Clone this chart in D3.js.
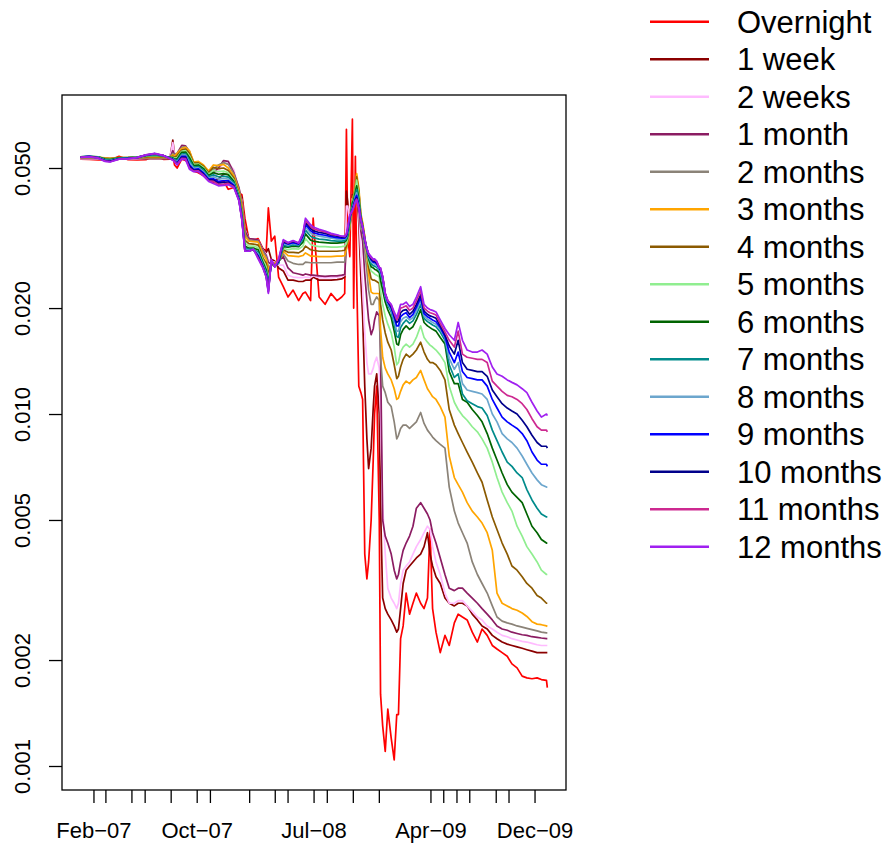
<!DOCTYPE html>
<html>
<head>
<meta charset="utf-8">
<script src="https://cdn.jsdelivr.net/npm/d3@7"></script>
<style>
  html, body { margin: 0; padding: 0; background: #ffffff; }
  svg { display: block; font-family: "Liberation Sans", Arial, Helvetica, sans-serif; }
</style>
</head>
<body>
<svg id="chart" width="890" height="846"></svg>
<script>
// Observation dates shared by every maturity
const dates = [
  "2007-01-02","2007-01-22","2007-02-12","2007-02-28","2007-03-12","2007-04-02","2007-04-23","2007-05-14","2007-06-04","2007-06-25","2007-07-16","2007-07-30",
  "2007-08-06","2007-08-10","2007-08-16","2007-08-27","2007-09-05","2007-09-14","2007-09-24","2007-10-05","2007-10-17","2007-10-29","2007-11-09","2007-11-21","2007-12-03","2007-12-14","2007-12-27",
  "2008-01-08","2008-01-15","2008-01-22","2008-01-31","2008-02-11","2008-02-22","2008-03-04","2008-03-12","2008-03-17","2008-03-24","2008-04-01","2008-04-10","2008-04-21","2008-05-02","2008-05-14","2008-05-27","2008-06-06","2008-06-12","2008-06-24","2008-06-30","2008-07-14","2008-07-28","2008-08-11","2008-08-25","2008-09-05",
  "2008-09-12","2008-09-16","2008-09-19","2008-09-24","2008-09-30","2008-10-03","2008-10-07","2008-10-10","2008-10-15","2008-10-20","2008-10-24","2008-10-29","2008-11-03","2008-11-07","2008-11-13","2008-11-18","2008-11-21","2008-11-26","2008-12-02","2008-12-05","2008-12-10","2008-12-16","2008-12-22","2008-12-30","2009-01-06","2009-01-12","2009-01-16","2009-01-21","2009-01-27",
  "2009-02-03","2009-02-11","2009-02-19","2009-02-27","2009-03-09","2009-03-17","2009-03-25","2009-03-31","2009-04-06","2009-04-14","2009-04-24","2009-05-05","2009-05-15","2009-05-27","2009-06-05","2009-06-15","2009-06-26","2009-07-08","2009-07-20","2009-07-31","2009-08-12","2009-08-24","2009-09-04","2009-09-16","2009-09-28","2009-10-09","2009-10-21","2009-11-02","2009-11-13","2009-11-25","2009-12-07","2009-12-17","2009-12-29","2009-12-31"
];

// Rates by maturity
const overnight = [
  .053,.0529,.0527,.0528,.0527,.054,.0528,.0527,.0528,.0545,.0529,.053,
  .0545,.051,.05,.053,.0525,.051,.049,.0485,.0475,.0465,.0455,.0455,.046,.0435,.044,
  .0425,.042,.036,.0315,.0312,.0315,.0295,.029,.0385,.031,.032,.0245,.023,.0215,.0225,.021,.022,.0222,.021,.036,.0215,.0205,.022,.021,.0215,
  .022,.0644,.032,.028,.0688,.02,.054,.025,.012,.0115,.011,.004,.0034,.0038,.005,.0075,.01,.012,.005,.0016,.0013,.0011,.00145,.0012,.00104,.0014,.0014,.0023,.0025,
  .0031,.0027,.0029,.0031,.0029,.0028,.003,.0047,.0028,.0024,.0021,.00235,.0022,.00255,.0027,.00265,.0026,.0024,.00225,.00245,.00235,.0022,.00215,.0021,.00205,.00195,.0019,.0018,.00178,.00177,.00178,.00176,.00175,.00167
];
const week1 = [
  .0531,.0531,.053,.053,.053,.0531,.0531,.0531,.0531,.0532,.0531,.0531,
  .06,.0545,.0525,.0545,.054,.052,.0495,.0495,.0485,.047,.046,.0465,.048,.048,.046,
  .0428,.0412,.034,.0315,.0314,.0312,.0295,.0288,.0295,.0275,.0272,.026,.0255,.024,.024,.0238,.0238,.024,.024,.0245,.024,.024,.024,.0241,.0242,
  .0245,.043,.04,.034,.042,.039,.042,.044,.035,.024,.019,.012,.0085,.007,.008,.0105,.012,.013,.01,.0055,.003,.0028,.0027,.0026,.0025,.0024,.00245,.0028,.0033,
  .0036,.0037,.0038,.0039,.004,.0042,.0046,.004,.0037,.00345,.0033,.003,.0029,.00285,.0029,.0029,.00285,.0027,.0026,.0025,.00245,.00235,.0023,.00225,.00222,.0022,.00218,.00216,.00214,.00212,.0021,.0021,.0021,.0021
];
const week2 = [
  .0531,.0531,.0531,.0531,.0531,.0531,.0531,.0531,.0532,.0532,.0532,.0532,
  .059,.0545,.0535,.057,.0565,.0535,.05,.05,.0492,.0475,.047,.049,.052,.0515,.0495,
  .043,.0405,.0335,.0315,.0314,.0312,.0293,.0285,.0275,.027,.027,.0265,.0265,.0248,.0245,.0244,.0244,.0245,.0244,.0247,.0244,.0244,.0244,.0245,.0246,
  .0248,.039,.039,.035,.041,.04,.0425,.045,.038,.028,.023,.017,.014,.013,.013,.0135,.014,.0145,.0135,.01,.0055,.004,.0032,.003,.0029,.0028,.0029,.0033,.0036,
  .0037,.0038,.004,.0042,.0044,.0046,.0048,.0047,.0042,.0038,.0035,.0031,.0029,.0029,.00295,.00295,.00285,.00275,.00265,.0026,.0025,.00245,.0024,.00235,.00233,.0023,.00228,.00226,.00225,.00223,.00221,.0022,.0022,.0022
];
const month1 = [
  .0532,.0532,.0532,.0532,.0532,.0532,.0532,.0532,.0532,.0532,.0532,.0532,
  .056,.0545,.055,.058,.0578,.0555,.0512,.0512,.05,.0485,.0485,.05,.0525,.0522,.0485,
  .044,.04,.0332,.0315,.0314,.0312,.0292,.0282,.027,.0266,.0268,.0272,.028,.026,.0252,.025,.0248,.025,.0248,.0248,.0247,.0246,.0247,.0247,.0248,
  .0249,.03,.032,.034,.0393,.041,.043,.0459,.039,.033,.031,.025,.021,.0185,.0168,.0175,.0185,.0195,.019,.015,.005,.0045,.0043,.004,.0036,.0034,.0035,.0038,.0041,
  .0043,.0045,.0048,.0054,.0056,.0054,.0052,.005,.0046,.0043,.0039,.0035,.0032,.00315,.0032,.0032,.0031,.003,.0029,.0028,.0027,.0026,.0025,.00245,.00243,.0024,.00238,.00236,.00235,.00233,.00232,.00231,.0023,.0023
];
const month2 = [
  .0534,.0534,.0534,.0533,.0533,.0534,.0534,.0534,.0534,.0534,.0534,.0534,
  .055,.0545,.055,.0572,.0575,.0558,.0518,.0515,.0505,.0488,.0495,.051,.0518,.0512,.0482,
  .0435,.0395,.0325,.0312,.0311,.031,.029,.028,.0262,.0264,.0266,.0273,.0285,.0272,.0268,.0266,.0266,.027,.0269,.0269,.0269,.0269,.0269,.027,.027,
  .027,.0295,.0315,.034,.04,.0415,.044,.0475,.042,.0335,.033,.029,.0255,.0225,.0205,.0205,.021,.0215,.021,.0145,.012,.0115,.0108,.0105,.0095,.0085,.0087,.0091,.0093,
  .0093,.0091,.0093,.0095,.0101,.0094,.009,.0088,.0086,.0084,.0082,.008,.0062,.0053,.0049,.0046,.0043,.0038,.0035,.0033,.0031,.00285,.00265,.00258,.00255,.00253,.0025,.00248,.00246,.00244,.00242,.0024,.00239,.00239
];
const month3 = [
  .0536,.0536,.0536,.0534,.0533,.0535,.0535,.0536,.0536,.0536,.0536,.0536,
  .0545,.054,.055,.0568,.0572,.056,.052,.0522,.051,.049,.051,.0508,.0512,.05,.0475,
  .043,.039,.032,.031,.0309,.0308,.0285,.0275,.0258,.0265,.0268,.0272,.029,.0282,.0281,.028,.0282,.0287,.0281,.0281,.028,.028,.028,.0281,.0281,
  .0282,.0295,.0306,.034,.0405,.042,.045,.0482,.044,.037,.035,.032,.0282,.025,.0222,.022,.022,.022,.022,.0175,.0145,.0135,.013,.0125,.0118,.011,.0111,.0116,.0121,
  .0124,.0122,.0125,.0127,.0133,.0125,.0118,.0115,.0112,.011,.0105,.0098,.0076,.0066,.0063,.006,.0056,.0053,.0051,.0049,.0046,.0041,.0031,.0029,.00285,.0028,.00277,.00272,.00266,.00257,.00253,.00252,.0025,.00249
];
const month4 = [
  .0537,.0538,.0537,.0533,.0531,.0535,.0535,.0536,.0538,.0539,.0538,.0536,
  .054,.0536,.0542,.0562,.0566,.055,.0516,.0517,.0506,.0485,.0502,.0498,.05,.0492,.0468,
  .0425,.0382,.0312,.0305,.0304,.0302,.0278,.0268,.025,.0266,.0266,.027,.0293,.0288,.0288,.0287,.0292,.03,.0293,.0292,.029,.029,.029,.029,.0291,
  .0292,.03,.031,.0345,.0402,.0415,.0442,.0472,.043,.0365,.0346,.0318,.0288,.0262,.0242,.024,.024,.0238,.0235,.0205,.0185,.017,.016,.0152,.0138,.0126,.0128,.0136,.0143,
  .0148,.0145,.0148,.0152,.016,.015,.0143,.014,.014,.0138,.0133,.0125,.0103,.0093,.0088,.0083,.0078,.0073,.0068,.0064,.0057,.0051,.0047,.0043,.004,.0037,.0036,.00345,.0033,.0032,.00305,.003,.0029,.0029
];
const month5 = [
  .0538,.0539,.0538,.0531,.0529,.0534,.0535,.0536,.054,.0542,.0539,.0536,
  .0536,.0533,.0535,.0558,.056,.0542,.0512,.0513,.0502,.048,.0492,.0488,.049,.0485,.0462,
  .042,.0375,.0306,.03,.03,.0297,.0274,.0262,.0242,.0267,.0265,.0269,.0296,.0293,.0295,.0294,.03,.0315,.0303,.0301,.0299,.0299,.0298,.0298,.0299,
  .03,.0305,.0315,.035,.04,.041,.0435,.0462,.042,.0362,.0343,.0315,.029,.027,.0255,.0252,.025,.0248,.0245,.0225,.0205,.019,.018,.017,.0155,.0138,.014,.015,.0155,
  .0158,.0155,.0158,.0165,.0178,.0165,.016,.0157,.0155,.0152,.0147,.014,.012,.0108,.0103,.0099,.0096,.0092,.0089,.0085,.008,.0073,.0066,.006,.0056,.0053,.0048,.0045,.0042,.004,.0038,.0036,.0035,.0035
];
const month6 = [
  .0538,.054,.0538,.053,.0528,.0534,.0535,.0537,.0542,.0544,.054,.0536,
  .0534,.053,.053,.0554,.0555,.0535,.0508,.051,.0498,.0476,.0485,.048,.0482,.0478,.0458,
  .0415,.037,.03,.0296,.0296,.0293,.027,.0257,.0236,.0268,.0264,.0268,.0299,.0298,.03,.0299,.0308,.0325,.0312,.031,.0308,.0307,.0306,.0306,.0307,
  .0308,.0312,.032,.0355,.0398,.0405,.0428,.0445,.041,.036,.0341,.0313,.0292,.0276,.0262,.026,.0258,.0256,.0252,.024,.0225,.0208,.0198,.0188,.0172,.0158,.0157,.0168,.0174,
  .0178,.0174,.0177,.0185,.0198,.0182,.0178,.0176,.0174,.0172,.0165,.0158,.0132,.0122,.0122,.011,.0108,.0103,.0099,.0095,.0088,.008,.0074,.0068,.0063,.006,.0058,.0056,.0052,.0048,.0046,.0044,.0043,.0043
];
const month7 = [
  .0538,.054,.0537,.0528,.0526,.0533,.0534,.0536,.0543,.0546,.0541,.0535,
  .0532,.0528,.0525,.0548,.0549,.0526,.0503,.0505,.0493,.0472,.0478,.0472,.0474,.0471,.0454,
  .0412,.0366,.0296,.0294,.0294,.0288,.0267,.0253,.0232,.0269,.0263,.0269,.0302,.03,.0303,.0301,.0313,.0333,.032,.0317,.0314,.0313,.0311,.031,.031,
  .0311,.0315,.0324,.0358,.039,.04,.042,.0435,.0402,.0358,.034,.0312,.0293,.0279,.0267,.0264,.0263,.0261,.0256,.025,.0238,.0214,.0204,.0195,.018,.0166,.0165,.0176,.0181,
  .0185,.0181,.0184,.0192,.0205,.0187,.0183,.0181,.0179,.0177,.0171,.0162,.0138,.0127,.013,.0114,.0109,.0107,.0105,.0104,.0099,.009,.0084,.0078,.0073,.0071,.0068,.0066,.0061,.0057,.0054,.0052,.0051,.0051
];
const month8 = [
  .0538,.054,.0536,.0526,.0525,.0532,.0533,.0536,.0543,.0547,.0541,.0534,
  .053,.0526,.052,.0544,.0544,.0518,.0499,.05,.0488,.0468,.0472,.0465,.0467,.0465,.045,
  .041,.0363,.0294,.0292,.0293,.0285,.0265,.025,.0228,.027,.0263,.027,.0305,.0302,.0305,.0303,.0317,.034,.0327,.0323,.032,.0318,.0316,.0314,.0314,
  .0314,.0318,.0328,.036,.0385,.0396,.0415,.0425,.0396,.0357,.0339,.0312,.0294,.0281,.0271,.0268,.0267,.0264,.0258,.0253,.0242,.0217,.0206,.0198,.0184,.0172,.0172,.0183,.0187,
  .0189,.0185,.0188,.0196,.021,.019,.0186,.0184,.0182,.018,.0174,.0165,.0144,.0134,.014,.0122,.0117,.0116,.0115,.0114,.011,.01,.0095,.0088,.0085,.0083,.008,.0076,.0072,.0068,.0065,.0063,.0062,.0062
];
const month9 = [
  .0537,.054,.0535,.0525,.0523,.0531,.0533,.0535,.0544,.0548,.0542,.0533,
  .0529,.0524,.0517,.054,.054,.051,.0495,.0497,.0484,.0465,.0466,.0458,.046,.046,.0447,
  .0408,.036,.0292,.0291,.0293,.0282,.0263,.0248,.0225,.0272,.0262,.0271,.0307,.0304,.0307,.0304,.032,.0346,.0332,.0328,.0324,.0322,.0319,.0317,.0316,
  .0316,.032,.0331,.0362,.0382,.0393,.041,.0418,.0392,.0356,.0339,.0312,.0295,.0283,.0274,.027,.027,.0267,.026,.0256,.0244,.0219,.0208,.02,.0188,.0178,.0178,.0189,.0192,
  .0194,.0188,.0192,.0201,.0214,.0193,.0189,.0187,.0185,.0183,.0176,.0166,.015,.014,.015,.0132,.0127,.0126,.0125,.0125,.012,.011,.0104,.0098,.0095,.0093,.0091,.0088,.0084,.0078,.0074,.0072,.0072,.0071
];
const month10 = [
  .0537,.0539,.0534,.0524,.0522,.0531,.0532,.0535,.0544,.0549,.0542,.0533,
  .0528,.0523,.0514,.0536,.0536,.0505,.0492,.0494,.048,.0462,.0462,.0453,.0455,.0456,.0444,
  .0406,.0358,.0291,.029,.0293,.028,.0262,.0246,.0223,.0273,.0262,.0272,.0309,.0305,.0309,.0305,.0323,.0351,.0337,.0332,.0328,.0326,.0322,.032,.0318,
  .0318,.0322,.0334,.0364,.038,.039,.0406,.0412,.0389,.0356,.0339,.0313,.0295,.0284,.0276,.0272,.0272,.0269,.0261,.0258,.0245,.022,.0209,.0202,.0191,.0182,.0184,.0194,.0197,
  .0198,.0192,.0196,.0205,.0218,.0196,.0192,.019,.0189,.0187,.0178,.0168,.0156,.0148,.0162,.014,.0134,.0133,.0132,.0132,.0128,.0117,.0112,.0107,.0104,.0102,.01,.0096,.0092,.0087,.0083,.0081,.0081,.008
];
const month11 = [
  .0537,.0539,.0534,.0523,.0521,.053,.0532,.0535,.0545,.0549,.0542,.0532,
  .0527,.0522,.0512,.0533,.0532,.05,.049,.0491,.0477,.046,.0458,.0449,.045,.0452,.0442,
  .0405,.0356,.029,.029,.0294,.0278,.0261,.0245,.0222,.0274,.0262,.0274,.0311,.0306,.031,.0306,.0325,.0355,.0341,.0336,.0332,.0329,.0324,.0322,.032,
  .0319,.0324,.0337,.0366,.0378,.0388,.0403,.0408,.0387,.0355,.034,.0314,.0295,.0285,.0278,.0274,.0274,.0271,.0261,.026,.0246,.022,.021,.0204,.0193,.0185,.0189,.02,.0201,
  .0203,.0197,.02,.021,.0224,.02,.0196,.0194,.0193,.0191,.0181,.0171,.0162,.0155,.0172,.0148,.0145,.0144,.0143,.0143,.014,.0124,.012,.0116,.0113,.0112,.011,.0107,.0103,.0097,.0092,.009,.009,.0089
];
const month12 = [
  .0536,.0538,.0533,.0522,.052,.053,.0531,.0535,.0545,.055,.0542,.0532,
  .0526,.052,.051,.053,.0528,.0496,.0488,.0488,.0474,.0458,.0452,.0445,.0446,.0448,.044,
  .0403,.0355,.029,.029,.0294,.0276,.026,.0245,.022,.0275,.0262,.0276,.0313,.0307,.0311,.0306,.0327,.036,.0345,.034,.0335,.0331,.0326,.0323,.032,
  .032,.0325,.034,.0368,.0378,.0386,.04,.0405,.0385,.0355,.034,.0315,.0295,.0286,.028,.0275,.0276,.0272,.026,.026,.0245,.022,.021,.0205,.0195,.0188,.0195,.0205,.0205,
  .0208,.0202,.0205,.0215,.023,.0205,.02,.0198,.0197,.0195,.0185,.0175,.0168,.0162,.0182,.0162,.0152,.015,.015,.0152,.0148,.0136,.013,.0128,.0125,.0123,.0121,.0118,.0115,.0108,.0102,.0098,.01,.0099
];

const seriesNames = ["Overnight","1 week","2 weeks","1 month","2 months","3 months","4 months",
  "5 months","6 months","7 months","8 months","9 months","10 months","11 months","12 months"];
const seriesValues = [overnight, week1, week2, month1, month2, month3, month4,
  month5, month6, month7, month8, month9, month10, month11, month12];
const seriesColors = ["#FF0000","#8B0000","#FFBBFF","#8B1C62","#8B8378","#FFA500","#8B5A00",
  "#90EE90","#006400","#008B8B","#6CA6CD","#0000FF","#00008B","#CD2990","#A020F0"];

// Axis ticks
const yTickValues = [0.001, 0.002, 0.005, 0.010, 0.020, 0.050];
const xTickDates = ["2007-02-01","2007-03-01","2007-05-01","2007-06-01","2007-08-01","2007-10-01","2007-11-01",
  "2008-02-01","2008-04-01","2008-05-01","2008-07-01","2008-08-01","2008-10-01","2008-12-01",
  "2009-04-01","2009-05-01","2009-06-01","2009-07-01","2009-09-01","2009-10-01","2009-12-01"];
const xTickLabels = {"2007-02-01":"Feb\u221207","2007-10-01":"Oct\u221207","2008-07-01":"Jul\u221208",
  "2009-04-01":"Apr\u221209","2009-12-01":"Dec\u221209"};

seriesValues.forEach((v, i) => {
  if (v.length !== dates.length) throw new Error(seriesNames[i] + " has " + v.length + " values, expected " + dates.length);
});

const parse = d3.utcParse("%Y-%m-%d");
const fmt = d3.utcFormat("%Y-%m-%d");
const when = dates.map(parse);

const svg = d3.select("#chart");
const frame = { left: 62, right: 566, top: 95, bottom: 790 };
const padX = (frame.right - frame.left) * 0.04 / 1.08;

const x = d3.scaleUtc()
  .domain(d3.extent(when))
  .range([frame.left + padX, frame.right - padX]);
const y = d3.scaleLog()
  .domain([0.001, 0.05])
  .range([766, 168]);

// Series lines, shortest maturity drawn first
const line = d3.line()
  .x(d => x(d.date))
  .y(d => y(d.value));

const plot = svg.append("g");
seriesValues.forEach((vals, i) => {
  const pts = vals.map((v, k) => ({ date: when[k], value: v }));
  plot.append("path")
    .datum(pts)
    .attr("fill", "none")
    .attr("stroke", seriesColors[i])
    .attr("stroke-width", 1.7)
    .attr("stroke-linejoin", "round")
    .attr("d", line);
});

// Plot box
svg.append("rect")
  .attr("x", frame.left).attr("y", frame.top)
  .attr("width", frame.right - frame.left)
  .attr("height", frame.bottom - frame.top)
  .attr("fill", "none").attr("stroke", "#000").attr("stroke-width", 1.3);

// Left axis (rotated labels)
const yAxis = svg.append("g")
  .attr("transform", `translate(${frame.left},0)`)
  .call(d3.axisLeft(y).tickValues(yTickValues).tickFormat(d3.format(".3f")).tickSize(13).tickSizeOuter(0));
yAxis.select(".domain").remove();
yAxis.selectAll(".tick line").attr("stroke", "#000").attr("stroke-width", 1.3);
yAxis.selectAll(".tick text")
  .attr("font-size", 22)
  .attr("font-family", "Liberation Sans, Arial, sans-serif")
  .attr("fill", "#000")
  .attr("text-anchor", "middle")
  .attr("transform", "rotate(-90)")
  .attr("x", 0)
  .attr("y", -32)
  .attr("dy", null);

// Bottom axis
const xAxis = svg.append("g")
  .attr("transform", `translate(0,${frame.bottom})`)
  .call(d3.axisBottom(x)
    .tickValues(xTickDates.map(parse))
    .tickFormat(d => xTickLabels[fmt(d)] || "")
    .tickSize(13).tickSizeOuter(0));
xAxis.select(".domain").remove();
xAxis.selectAll(".tick line").attr("stroke", "#000").attr("stroke-width", 1.3);
xAxis.selectAll(".tick text")
  .attr("font-size", 22)
  .attr("font-family", "Liberation Sans, Arial, sans-serif")
  .attr("fill", "#000")
  .attr("y", 48)
  .attr("dy", null);

// Legend
const legend = svg.append("g");
seriesNames.forEach((name, i) => {
  const ly = 21.7 + i * 37.5;
  legend.append("line")
    .attr("x1", 650).attr("x2", 709)
    .attr("y1", ly).attr("y2", ly)
    .attr("stroke", seriesColors[i]).attr("stroke-width", 2.6);
  legend.append("text")
    .attr("x", 737).attr("y", ly + 11)
    .attr("font-size", 31)
    .attr("fill", "#000")
    .text(name);
});
</script>
</body>
</html>
